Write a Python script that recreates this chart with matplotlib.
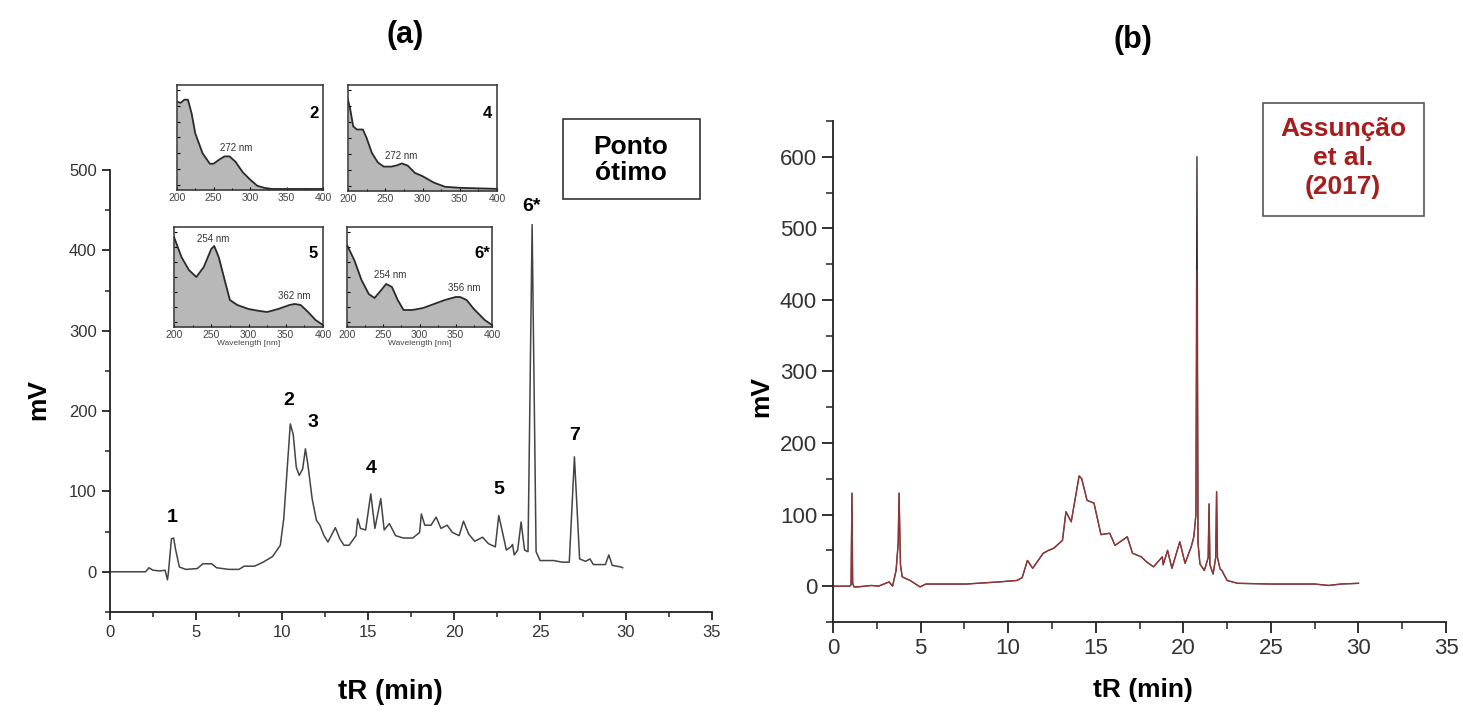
import numpy as np
import matplotlib
matplotlib.use("Agg")
import matplotlib.pyplot as plt
from matplotlib.patches import Rectangle
from matplotlib.ticker import MultipleLocator

plt.rcParams['font.family'] = ['Liberation Sans', 'DejaVu Sans']

# chromatogram (a) - ponto otimo
a_time = [0.0, 2.07, 2.26, 2.5, 2.9, 3.2, 3.34, 3.4, 3.57, 3.7,
          3.8, 4.03, 4.4, 5.07, 5.4, 5.9, 6.2, 6.9, 7.5, 7.8,
          8.4, 8.9, 9.45, 9.9, 10.1, 10.3, 10.48, 10.65, 10.83, 11.0,
          11.2, 11.36, 11.5, 11.75, 12.0, 12.2, 12.44, 12.67, 13.1, 13.36,
          13.6, 13.9, 14.3, 14.4, 14.56, 14.86, 15.16, 15.4, 15.74, 15.94,
          16.24, 16.6, 17.05, 17.6, 18.0, 18.1, 18.3, 18.66, 18.96, 19.24,
          19.6, 19.9, 20.3, 20.55, 20.85, 21.2, 21.66, 22.0, 22.4, 22.6,
          22.86, 23.04, 23.3, 23.4, 23.5, 23.7, 23.9, 24.1, 24.3, 24.54,
          24.77, 25.0, 25.8, 26.27, 26.7, 27.0, 27.3, 27.65, 27.9, 28.1,
          28.8, 29.0, 29.2, 29.7, 29.8]
a_mv = [0, 0, 5, 2, 1, 2, -10, 0, 41, 42,
        29, 6, 3, 4, 10, 10, 5, 3, 3, 7,
        7, 12, 19, 33, 66, 128, 184, 171, 130, 120,
        128, 153, 134, 91, 64, 58, 45, 37, 55, 41,
        33, 33, 45, 66, 54, 52, 97, 54, 91, 52,
        60, 45, 42, 42, 49, 72, 58, 58, 68, 54,
        58, 49, 45, 63, 47, 38, 43, 35, 31, 70,
        45, 27, 31, 34, 21, 27, 62, 27, 25, 432,
        25, 14, 14, 12, 12, 143, 16, 13, 16, 9,
        9, 21, 8, 6, 5]

a_peak_names = ['1', '2', '3', '4', '5', '6*', '7']
a_peak_x = [3.6, 10.4, 11.8, 15.2, 22.6, 24.5, 27.0]
a_peak_y = [68, 213, 186, 128, 102, 455, 170]

# chromatogram (b) - Assuncao et al. (2017)
b_time = [0.0, 0.95, 1.03, 1.08, 1.12, 1.2, 1.4, 2.2, 2.6, 3.2,
          3.4, 3.6, 3.72, 3.77, 3.85, 3.95, 4.4, 4.97, 5.3, 7.6,
          9.5, 10.5, 10.8, 11.1, 11.4, 12.0, 12.3, 12.6, 13.1, 13.3,
          13.6, 14.05, 14.2, 14.5, 14.9, 15.3, 15.8, 16.1, 16.8, 17.1,
          17.6, 17.9, 18.3, 18.8, 18.85, 19.1, 19.35, 19.8, 20.1, 20.45,
          20.6, 20.72, 20.78, 20.84, 20.95, 21.2, 21.42, 21.47, 21.52, 21.7,
          21.85, 21.9, 21.95, 22.1, 22.2, 22.5, 23.1, 25.0, 27.5, 28.3,
          29.0, 30.0]
b_mv = [0, 0, 2, 130, 4, -1, -1, 1, 0, 6,
        0, 22, 60, 130, 30, 13, 8, -1, 3, 3,
        6, 8, 12, 36, 25, 46, 50, 53, 64, 104,
        90, 154, 150, 120, 116, 72, 74, 57, 69, 46,
        41, 34, 27, 41, 30, 50, 25, 62, 32, 55,
        69, 100, 600, 60, 31, 22, 40, 115, 30, 17,
        40, 132, 40, 24, 22, 8, 4, 3, 3, 1,
        3, 4]
b_red_peak_time = 20.78
b_red_peak_mv = 440

# UV spectra insets (relative absorbance)
s2_wl = [200, 205, 210, 215, 220, 225, 235, 245, 250, 258, 265, 272, 280, 290, 300, 310, 320, 330, 350, 400]
s2_ab = [0.84, 0.83, 0.86, 0.86, 0.73, 0.54, 0.35, 0.25, 0.25, 0.29, 0.32, 0.32, 0.27, 0.17, 0.10, 0.04, 0.02, 0.01, 0.01, 0.01]
s4_wl = [200, 203, 207, 212, 220, 225, 232, 240, 248, 258, 265, 272, 280, 290, 300, 315, 330, 350, 400]
s4_ab = [0.86, 0.77, 0.61, 0.58, 0.58, 0.50, 0.36, 0.27, 0.23, 0.23, 0.24, 0.26, 0.24, 0.17, 0.14, 0.08, 0.04, 0.03, 0.02]
s5_wl = [200, 210, 220, 230, 240, 250, 254, 260, 268, 275, 285, 300, 315, 325, 340, 355, 362, 370, 380, 390, 400]
s5_ab = [0.90, 0.70, 0.57, 0.50, 0.60, 0.78, 0.81, 0.70, 0.47, 0.27, 0.22, 0.18, 0.16, 0.15, 0.18, 0.22, 0.23, 0.22, 0.15, 0.07, 0.02]
s6_wl = [200, 210, 220, 230, 238, 245, 254, 262, 270, 278, 290, 305, 320, 335, 350, 356, 365, 375, 390, 400]
s6_ab = [0.82, 0.67, 0.47, 0.33, 0.29, 0.35, 0.43, 0.40, 0.27, 0.17, 0.17, 0.19, 0.23, 0.27, 0.30, 0.30, 0.27, 0.18, 0.07, 0.02]

fig = plt.figure(figsize=(14.63, 7.14), dpi=100)

def style_axis(ax, ymaj, lab_size, tick_len):
    for s in ['top', 'right']:
        ax.spines[s].set_visible(False)
    for s in ['left', 'bottom']:
        ax.spines[s].set_linewidth(1.3)
        ax.spines[s].set_color('#222222')
    ax.xaxis.set_major_locator(MultipleLocator(5))
    ax.xaxis.set_minor_locator(MultipleLocator(2.5))
    ax.yaxis.set_major_locator(MultipleLocator(ymaj))
    ax.yaxis.set_minor_locator(MultipleLocator(ymaj / 2))
    ax.tick_params(which='major', direction='out', length=tick_len, width=1.3, colors='#222222',
                   labelsize=lab_size, labelcolor='#333333')
    ax.tick_params(which='minor', direction='out', length=tick_len * 0.65, width=1.1, colors='#222222')

# ---- panel (a)
axa = fig.add_axes([0.0752, 0.1429, 0.4115, 0.619])
axa.plot(a_time, a_mv, color='#444444', lw=1.1)
axa.set_xlim(0, 35)
axa.set_ylim(-50, 500)
style_axis(axa, 100, 12, 6)
axa.set_xlabel('tR (min)', fontsize=20, fontweight='bold')
axa.xaxis.set_label_coords(0.465, -0.152)
axa.set_ylabel('mV', fontsize=19, fontweight='bold')
axa.yaxis.set_label_coords(-0.10, 0.48)
for nm, x, y in zip(a_peak_names, a_peak_x, a_peak_y):
    axa.text(x, y, nm, ha='center', va='center', fontsize=14, fontweight='bold', clip_on=False)

fig.text(405 / 1463, 1 - 35 / 714, '(a)', ha='center', va='center', fontsize=22, fontweight='bold')

# Ponto otimo box
fig.patches.append(Rectangle((563 / 1463, 1 - 199 / 714), 137 / 1463, 80 / 714,
                             transform=fig.transFigure, fill=False, ec='#333333', lw=1.2))
fig.text(631 / 1463, 1 - 160 / 714, 'Ponto\nótimo', ha='center', va='center',
         fontsize=19, fontweight='bold', linespacing=1.15)

# insets
insets = [
    ([177, 85, 146, 105], s2_wl, s2_ab, '2', [('272 nm', 281, 0.40)], False),
    ([348, 85, 149, 106], s4_wl, s4_ab, '4', [('272 nm', 272, 0.33)], False),
    ([174, 227, 149, 100], s5_wl, s5_ab, '5', [('254 nm', 253, 0.88), ('362 nm', 361, 0.31)], True),
    ([347, 227, 145, 100], s6_wl, s6_ab, '6*', [('254 nm', 259, 0.52), ('356 nm', 362, 0.39)], True),
]
for (px, py, pw, ph), wl, ab, tag, notes, show_xl in insets:
    ia = fig.add_axes([px / 1463, 1 - (py + ph) / 714, pw / 1463, ph / 714])
    ia.fill_between(wl, ab, 0, color='#b8b8b8', lw=0)
    ia.plot(wl, ab, color='#2a2a2a', lw=1.3)
    ia.set_xlim(200, 400)
    ia.set_ylim(0, 1)
    ia.set_xticks([200, 250, 300, 350, 400])
    ia.xaxis.set_minor_locator(MultipleLocator(25))
    ia.set_yticks([0.05, 0.2, 0.35, 0.5, 0.65, 0.8, 0.95])
    ia.set_yticklabels([])
    ia.tick_params(which='both', direction='in', length=2.5, width=0.8, labelsize=7.5,
                   labelcolor='#444444', pad=2)
    ia.tick_params(axis='x', which='minor', length=1.5)
    for s in ia.spines.values():
        s.set_linewidth(1.1)
        s.set_color('#333333')
    ia.text(387, 0.73, tag, ha='center', va='center', fontsize=12, fontweight='bold')
    for txt, x, y in notes:
        ia.text(x, y, txt, ha='center', va='center', fontsize=7, color='#333333')
    if show_xl:
        ia.set_xlabel('Wavelength [nm]', fontsize=6, color='#444444', labelpad=0)

# ---- panel (b)
axb = fig.add_axes([0.5694, 0.1289, 0.419, 0.7017])
b_red = [b_red_peak_mv if t == b_red_peak_time else v for t, v in zip(b_time, b_mv)]
axb.plot(b_time, b_mv, color='#3a3030', lw=1.0)
axb.plot(b_time, b_red, color='#a83434', lw=0.9, alpha=0.85)
axb.set_xlim(0, 35)
axb.set_ylim(-50, 650)
style_axis(axb, 100, 16, 8)
axb.set_xlabel('tR (min)', fontsize=19, fontweight='bold')
axb.xaxis.set_label_coords(0.505, -0.112)
axb.set_ylabel('mV', fontsize=19, fontweight='bold')
axb.yaxis.set_label_coords(-0.098, 0.45)

fig.text(1133 / 1463, 1 - 40 / 714, '(b)', ha='center', va='center', fontsize=22, fontweight='bold')

fig.patches.append(Rectangle((1263 / 1463, 1 - 216 / 714), 161 / 1463, 113 / 714,
                             transform=fig.transFigure, fill=False, ec='#555555', lw=1.2))
fig.text(1343 / 1463, 1 - 158 / 714, 'Assunção\net al.\n(2017)', ha='center', va='center',
         fontsize=19, fontweight='bold', color='#a51d1d', linespacing=1.25)

fig.savefig('out.png', dpi=100)
